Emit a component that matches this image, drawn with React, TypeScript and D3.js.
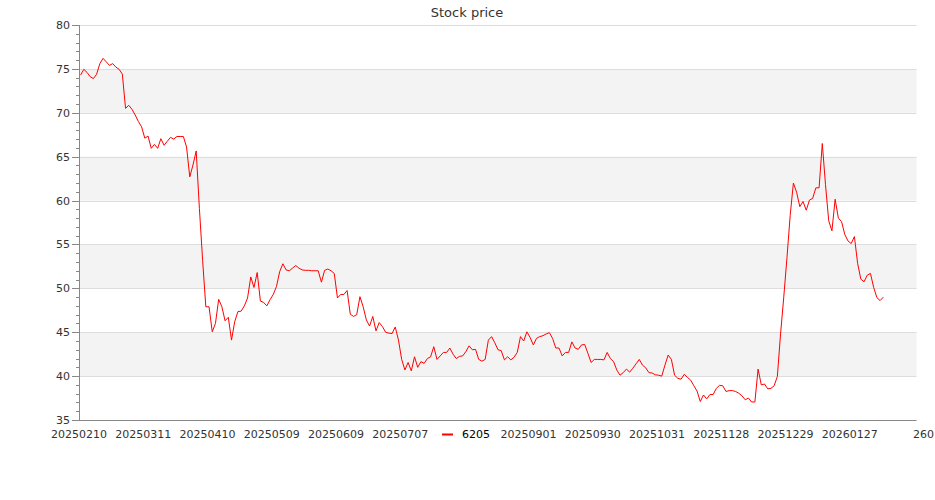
import React from "react";
import * as d3 from "d3";

const title = "Stock price";
const seriesName = "6205";

// closing prices, one per trading day (starting 20250210)
const prices: number[] = [
  74.3, 74.95, 74.6, 74.1, 73.9, 74.4, 75.6, 76.2, 75.8, 75.4,
  75.6, 75.2, 74.95, 74.4, 70.5, 70.85, 70.4, 69.75, 69.0, 68.4,
  67.1, 67.35, 65.95, 66.4, 65.95, 67.05, 66.3, 66.75, 67.2, 67.0,
  67.3, 67.3, 67.3, 66.1, 62.7, 64.05, 65.65, 59.1, 53.2, 47.9,
  47.9, 45.05, 46.0, 48.75, 47.9, 46.3, 46.7, 44.1, 46.2, 47.35,
  47.4, 48.0, 48.9, 51.3, 50.1, 51.8, 48.55, 48.4, 48.0, 48.7,
  49.3, 50.2, 51.9, 52.8, 52.1, 52.0, 52.3, 52.6, 52.3, 52.1,
  52.05, 52.05, 52.0, 52.0, 52.0, 50.7, 52.05, 52.2, 52.0, 51.7,
  48.9, 49.3, 49.3, 49.75, 47.05, 46.8, 47.0, 49.05, 47.9, 46.4,
  45.7, 46.8, 45.15, 46.1, 45.65, 45.0, 44.9, 44.85, 45.6, 44.1,
  41.9, 40.7, 41.55, 40.6, 42.2, 41.0, 41.65, 41.45, 42.0, 42.2,
  43.35, 41.9, 42.3, 42.7, 42.7, 43.2, 42.5, 42.0, 42.25, 42.3,
  42.8, 43.45, 43.0, 43.05, 41.9, 41.7, 41.9, 44.1, 44.5, 43.8,
  43.0, 42.9, 41.85, 42.2, 41.85, 42.15, 42.7, 44.5, 44.0, 45.05,
  44.4, 43.55, 44.3, 44.5, 44.6, 44.8, 44.95, 44.3, 43.2, 43.2,
  42.3, 42.7, 42.7, 43.9, 43.2, 43.05, 43.55, 43.6, 42.6, 41.55,
  41.9, 41.9, 41.9, 41.85, 42.7, 42.0, 41.65, 40.7, 40.1, 40.4,
  40.8, 40.45, 40.9, 41.4, 41.9, 41.25, 40.95, 40.4, 40.35, 40.15,
  40.1, 40.0, 41.25, 42.4, 41.9, 40.1, 39.75, 39.65, 40.2, 39.85,
  39.55, 38.9, 38.3, 37.1, 37.85, 37.4, 37.9, 37.9, 38.6, 38.95,
  38.9, 38.25, 38.35, 38.35, 38.25, 38.05, 37.75, 37.3, 37.5, 37.05,
  37.05, 40.8, 39.0, 39.1, 38.55, 38.6, 38.9, 39.95, 44.8, 49.0,
  53.5, 58.3, 62.0, 60.95, 59.3, 59.9, 58.9, 60.05, 60.25, 61.45,
  61.45, 66.5, 61.8, 57.7, 56.55, 60.15, 58.0, 57.6, 56.15, 55.4,
  55.1, 55.9, 52.85, 51.05, 50.75, 51.5, 51.7, 50.1, 48.95, 48.6,
  49.0,
];

// x-axis labels, one every 20 trading days
const tickLabels: string[] = [
  "20250210", "20250311", "20250410", "20250509", "20250609", "20250707",
  "20250806", "20250901", "20250930", "20251031", "20251128", "20251229",
  "20260127",
];
const tickEvery = 20;
const trailingLabel = "260";

const yMajorTicks = [35, 40, 45, 50, 55, 60, 65, 70, 75, 80];

export default function App() {
  const W = 935;
  const H = 500;
  const left = 80;
  const right = 916.5;
  const top = 25;
  const bottom = 420;

  const x = d3.scaleLinear().domain([0, 250]).range([80.6, 883.3]);
  const y = d3.scaleLinear().domain([35, 80]).range([bottom, top]);

  const linePath = d3
    .line<number>()
    .x((_, i) => x(i))
    .y((d) => y(d))(prices) as string;

  const minorTicks = d3.range(35, 81, 1);
  const font = "DejaVu Sans, sans-serif";

  const bands = yMajorTicks.slice(0, -1).map((v, k) => ({ lo: v, hi: yMajorTicks[k + 1], k }));

  // legend box sits over the x labels; labels it covers are hidden
  const legendX0 = 437;
  const legendX1 = 497;

  return (
    <svg
      width={W}
      height={H}
      style={{ position: "absolute", left: 0, top: 0, background: "#fff" }}
      fontFamily={font}
    >
      <rect x={0} y={0} width={W} height={H} fill="#fff" />
      {bands.map((b) =>
        b.k % 2 === 1 ? (
          <rect
            key={"b" + b.lo}
            x={left}
            y={y(b.hi)}
            width={right - left}
            height={y(b.lo) - y(b.hi)}
            fill="#f3f3f3"
          />
        ) : null
      )}
      {yMajorTicks.map((v) => (
        <line
          key={"g" + v}
          x1={left}
          x2={right}
          y1={Math.round(y(v)) + 0.5}
          y2={Math.round(y(v)) + 0.5}
          stroke="#dddddd"
          strokeWidth={1}
        />
      ))}
      <text x={467} y={17} textAnchor="middle" fontSize={13} fill="#333">
        {title}
      </text>
      <line x1={left - 0.5} x2={left - 0.5} y1={top} y2={bottom} stroke="#888" />
      {minorTicks.map((v) => (
        <line
          key={"m" + v}
          x1={left - 4}
          x2={left}
          y1={Math.round(y(v)) + 0.5}
          y2={Math.round(y(v)) + 0.5}
          stroke="#888"
        />
      ))}
      {yMajorTicks.map((v) => (
        <g key={"t" + v}>
          <line
            x1={left - 8}
            x2={left}
            y1={Math.round(y(v)) + 0.5}
            y2={Math.round(y(v)) + 0.5}
            stroke="#888"
          />
          <text x={70} y={y(v) + 4} textAnchor="end" fontSize={11} fill="#333">
            {v}
          </text>
        </g>
      ))}
      <line x1={left} x2={right} y1={bottom + 0.5} y2={bottom + 0.5} stroke="#888" />
      {tickLabels.map((lab, k) => {
        const cx = x(k * tickEvery) - 1.5;
        if (cx > legendX0 - 5 && cx < legendX1 + 5) return null;
        return (
          <text
            key={"x" + lab}
            x={cx}
            y={438}
            textAnchor="middle"
            fontSize={11}
            fill="#333"
          >
            {lab}
          </text>
        );
      })}
      <text x={913} y={438} fontSize={11} fill="#333">
        {trailingLabel}
      </text>
      <path d={linePath} fill="none" stroke="#ff0000" strokeWidth={1} />
      <rect x={legendX0} y={425} width={legendX1 - legendX0} height={19} fill="#fff" />
      <line x1={442} x2={453} y1={434.5} y2={434.5} stroke="#ff0000" strokeWidth={2} />
      <text x={462} y={438} fontSize={11} fill="#000">
        {seriesName}
      </text>
    </svg>
  );
}
